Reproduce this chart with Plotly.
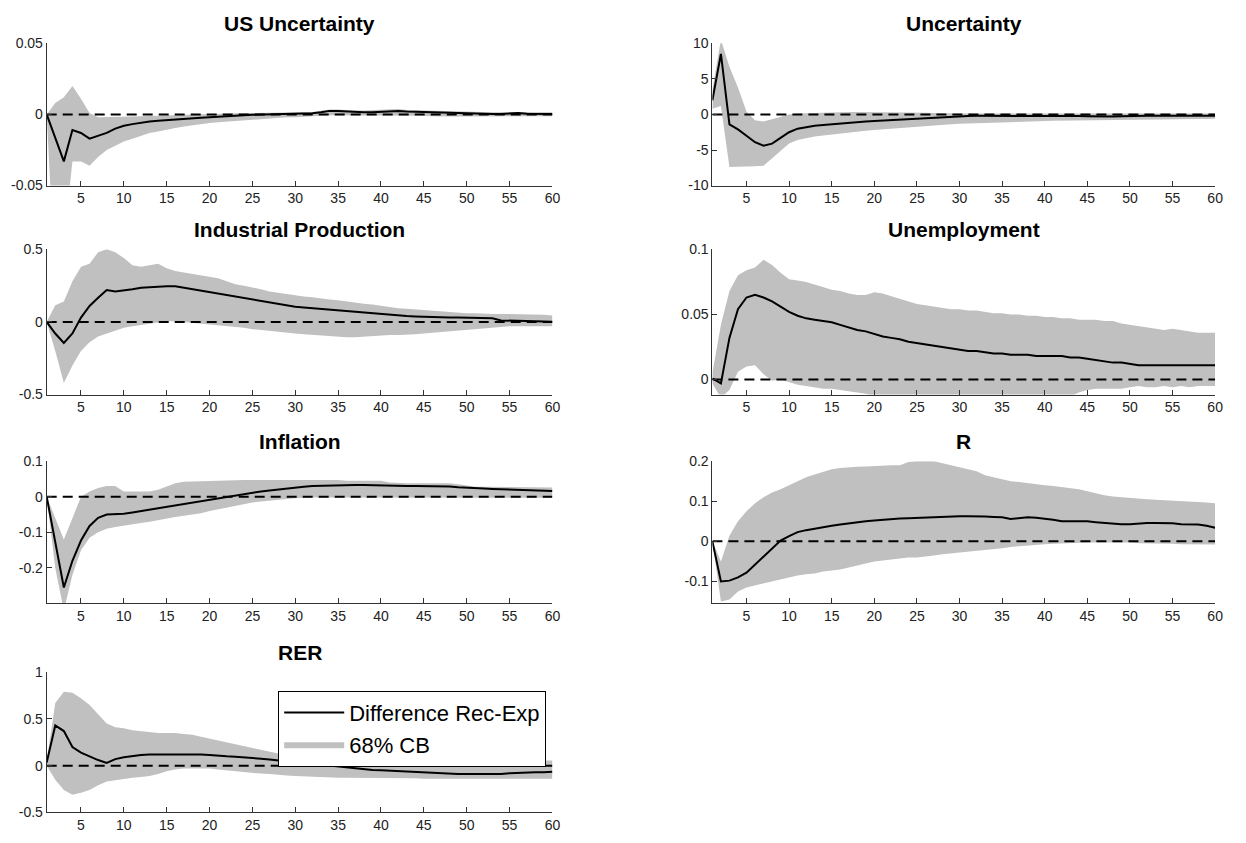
import plotly.graph_objects as go

periods = list(range(1, 61))

# ---------------- US Uncertainty ----------------
us_unc_irf = [0, -0.016, -0.033, -0.011, -0.013, -0.017, -0.015, -0.013, -0.010, -0.008,
              -0.0068, -0.0058, -0.005, -0.0045, -0.004, -0.0036, -0.0032, -0.0028, -0.0024, -0.002,
              -0.0015, -0.001, -0.0008, -0.0005, -0.0003, -0.0002, 0, 0, 0.0002, 0.0003,
              0.0005, 0.0008, 0.0015, 0.0025, 0.0025, 0.002, 0.0015, 0.0015, 0.0015, 0.002,
              0.0025, 0.0025, 0.002, 0.0018, 0.0018, 0.0015, 0.001, 0.0008, 0.0008, 0.0008,
              0.0005, 0.0003, 0.0003, 0.0003, 0.0005, 0.001, 0.0005, 0.0003, 0.0003, 0.0003]
us_unc_hi = [0, 0.008, 0.012, 0.020, 0.011, 0.001, -0.002, -0.002, -0.002, -0.002,
             -0.0015, -0.0012, -0.001, -0.001, -0.0008, -0.0005, -0.0003, 0, 0.0003, 0.0005,
             0.0008, 0.001, 0.001, 0.001, 0.001, 0.001, 0.001, 0.0012, 0.0013, 0.0015,
             0.0015, 0.0018, 0.0025, 0.0035, 0.0035, 0.003, 0.0028, 0.0028, 0.003, 0.0035,
             0.0038, 0.0038, 0.0032, 0.003, 0.003, 0.0028, 0.0022, 0.002, 0.002, 0.002,
             0.0018, 0.0015, 0.0015, 0.0015, 0.0017, 0.002, 0.0017, 0.0015, 0.0015, 0.0015]
us_unc_lo = [0, -0.12, -0.09, -0.033, -0.033, -0.036, -0.030, -0.025, -0.022, -0.019,
             -0.017, -0.015, -0.013, -0.012, -0.0105, -0.0095, -0.0085, -0.0075, -0.0065, -0.006,
             -0.0055, -0.005, -0.0045, -0.004, -0.0035, -0.003, -0.003, -0.0025, -0.002, -0.002,
             -0.0018, -0.0015, -0.001, -0.0005, -0.0005, -0.0008, -0.001, -0.001, -0.001, -0.0008,
             -0.0005, -0.0005, -0.0008, -0.001, -0.001, -0.0012, -0.0015, -0.0015, -0.0015, -0.0015,
             -0.0015, -0.0015, -0.0015, -0.0015, -0.0012, -0.001, -0.0012, -0.0012, -0.0012, -0.0012]

# ---------------- Uncertainty ----------------
unc_irf = [2.0, 8.5, -1.4, -2.1, -3.0, -3.9, -4.4, -4.1, -3.3, -2.5,
           -2.0, -1.75, -1.6, -1.5, -1.38, -1.27, -1.17, -1.08, -1.0, -0.92,
           -0.85, -0.78, -0.72, -0.65, -0.58, -0.5, -0.42, -0.35, -0.3, -0.25,
           -0.22, -0.2, -0.2, -0.2, -0.18, -0.15, -0.15, -0.15, -0.13, -0.12,
           -0.12, -0.15, -0.2, -0.22, -0.25, -0.3, -0.35, -0.3, -0.25, -0.2,
           -0.2, -0.2, -0.18, -0.18, -0.2, -0.2, -0.2, -0.2, -0.2, -0.2]
unc_hi = [3.5, 10.5, 6.7, 3.8, 0.4, -0.8, -1.0, -0.7, -0.3, 0.0,
          0.15, 0.2, 0.25, 0.3, 0.3, 0.3, 0.35, 0.35, 0.35, 0.35,
          0.35, 0.35, 0.35, 0.35, 0.3, 0.25, 0.2, 0.15, 0.15, 0.15,
          0.15, 0.15, 0.15, 0.15, 0.15, 0.15, 0.15, 0.15, 0.15, 0.15,
          0.15, 0.15, 0.15, 0.15, 0.15, 0.1, 0.05, 0.1, 0.15, 0.15,
          0.15, 0.15, 0.15, 0.15, 0.15, 0.15, 0.15, 0.15, 0.15, 0.15]
unc_lo = [0.8, 1.2, -7.4, -7.4, -7.35, -7.3, -7.2, -6.2, -5.1, -4.1,
          -3.6, -3.3, -3.1, -2.95, -2.8, -2.65, -2.55, -2.45, -2.3, -2.2,
          -2.1, -2.0, -1.9, -1.8, -1.7, -1.6, -1.52, -1.45, -1.38, -1.32,
          -1.27, -1.22, -1.18, -1.14, -1.1, -1.06, -1.02, -0.99, -0.96, -0.93,
          -0.9, -0.88, -0.86, -0.84, -0.82, -0.8, -0.8, -0.78, -0.76, -0.74,
          -0.72, -0.7, -0.69, -0.68, -0.67, -0.66, -0.65, -0.64, -0.63, -0.62]

# ---------------- Industrial Production ----------------
ip_irf = [0, -0.08, -0.145, -0.08, 0.03, 0.11, 0.166, 0.22, 0.21, 0.215,
          0.225, 0.235, 0.24, 0.245, 0.245, 0.245, 0.235, 0.225, 0.215, 0.205,
          0.195, 0.185, 0.175, 0.165, 0.155, 0.145, 0.135, 0.125, 0.115, 0.105,
          0.1, 0.095, 0.09, 0.085, 0.08, 0.075, 0.07, 0.065, 0.06, 0.055,
          0.05, 0.042, 0.04, 0.038, 0.035, 0.033, 0.03, 0.03, 0.03, 0.03,
          0.03, 0.03, 0.025, 0.01, 0.01, 0.008, 0.005, 0.005, 0.003, 0.002]
ip_hi = [0, 0.115, 0.14, 0.28, 0.38, 0.40, 0.48, 0.50, 0.48, 0.44,
         0.39, 0.38, 0.39, 0.40, 0.37, 0.35, 0.34, 0.33, 0.32, 0.31,
         0.30, 0.28, 0.26, 0.25, 0.24, 0.225, 0.21, 0.2, 0.19, 0.18,
         0.175, 0.17, 0.16, 0.155, 0.15, 0.14, 0.13, 0.125, 0.12, 0.11,
         0.1, 0.095, 0.09, 0.085, 0.08, 0.075, 0.07, 0.065, 0.06, 0.06,
         0.06, 0.055, 0.055, 0.055, 0.055, 0.055, 0.05, 0.05, 0.05, 0.045]
ip_lo = [0, -0.2, -0.42, -0.3, -0.2, -0.14, -0.1, -0.08, -0.065, -0.04,
         -0.03, -0.02, -0.01, 0.0, 0.005, 0.005, 0.0, -0.005, -0.01, -0.015,
         -0.02, -0.03, -0.035, -0.04, -0.05, -0.055, -0.06, -0.07, -0.075, -0.08,
         -0.085, -0.09, -0.095, -0.1, -0.105, -0.105, -0.105, -0.1, -0.1, -0.095,
         -0.09, -0.09, -0.09, -0.085, -0.08, -0.075, -0.07, -0.06, -0.055, -0.05,
         -0.045, -0.04, -0.035, -0.03, -0.03, -0.03, -0.03, -0.03, -0.03, -0.03]

# ---------------- Unemployment ----------------
unemp_irf = [0.001, -0.003, 0.032, 0.054, 0.063, 0.065, 0.063, 0.06, 0.056, 0.052,
             0.049, 0.047, 0.046, 0.045, 0.044, 0.042, 0.04, 0.038, 0.037, 0.035,
             0.033, 0.032, 0.031, 0.029, 0.028, 0.027, 0.026, 0.025, 0.024, 0.023,
             0.022, 0.022, 0.021, 0.02, 0.02, 0.019, 0.019, 0.019, 0.018, 0.018,
             0.018, 0.018, 0.017, 0.017, 0.016, 0.015, 0.014, 0.013, 0.013, 0.012,
             0.011, 0.011, 0.011, 0.011, 0.011, 0.011, 0.011, 0.011, 0.011, 0.011]
unemp_hi = [0.005, 0.042, 0.068, 0.08, 0.084, 0.086, 0.092, 0.088, 0.082, 0.077,
            0.076, 0.075, 0.073, 0.071, 0.069, 0.068, 0.066, 0.065, 0.065, 0.067,
            0.066, 0.064, 0.062, 0.06, 0.058, 0.057, 0.056, 0.055, 0.054, 0.054,
            0.053, 0.053, 0.052, 0.051, 0.051, 0.05, 0.05, 0.049, 0.049, 0.048,
            0.048, 0.047, 0.047, 0.046, 0.046, 0.046, 0.045, 0.045, 0.043, 0.042,
            0.041, 0.04, 0.039, 0.038, 0.039, 0.038, 0.037, 0.036, 0.036, 0.036]
unemp_lo = [-0.003, -0.014, -0.008, 0.006, 0.01, 0.011, 0.004, -0.001, 0.0, -0.002,
            -0.004, -0.005, -0.006, -0.007, -0.007, -0.008, -0.009, -0.01, -0.011, -0.013,
            -0.013, -0.013, -0.013, -0.013, -0.013, -0.013, -0.013, -0.013, -0.013, -0.013,
            -0.013, -0.013, -0.013, -0.013, -0.013, -0.013, -0.013, -0.013, -0.013, -0.013,
            -0.013, -0.013, -0.013, -0.01, -0.008, -0.007, -0.007, -0.007, -0.007, -0.006,
            -0.005, -0.006, -0.006, -0.005, -0.006, -0.005, -0.006, -0.005, -0.005, -0.005]

# ---------------- Inflation ----------------
infl_irf = [0, -0.13, -0.255, -0.18, -0.123, -0.082, -0.059, -0.05, -0.05, -0.048,
            -0.044, -0.04, -0.036, -0.032, -0.027, -0.025, -0.02, -0.016, -0.013, -0.007,
            -0.003, 0.001, 0.005, 0.009, 0.012, 0.015, 0.018, 0.021, 0.024, 0.026,
            0.028, 0.03, 0.031, 0.032, 0.033, 0.033, 0.033, 0.033, 0.032, 0.031,
            0.03, 0.03, 0.03, 0.03, 0.03, 0.03, 0.03, 0.029, 0.027, 0.025,
            0.024, 0.023, 0.022, 0.021, 0.02, 0.019, 0.018, 0.017, 0.016, 0.016]
infl_hi = [0, -0.06, -0.12, -0.06, 0.0, 0.015, 0.025, 0.03, 0.03, 0.015,
           0.015, 0.015, 0.015, 0.02, 0.03, 0.038, 0.042, 0.043, 0.044, 0.045,
           0.045, 0.046, 0.046, 0.047, 0.047, 0.047, 0.047, 0.048, 0.048, 0.048,
           0.048, 0.048, 0.048, 0.047, 0.047, 0.045, 0.045, 0.045, 0.045, 0.045,
           0.04, 0.038, 0.038, 0.038, 0.038, 0.038, 0.038, 0.038, 0.035, 0.032,
           0.028, 0.028, 0.028, 0.027, 0.027, 0.027, 0.026, 0.026, 0.026, 0.026]
infl_lo = [0, -0.2, -0.32, -0.22, -0.15, -0.115, -0.1, -0.09, -0.085, -0.082,
           -0.078, -0.074, -0.07, -0.065, -0.06, -0.057, -0.053, -0.05, -0.046, -0.04,
           -0.035, -0.03, -0.025, -0.02, -0.016, -0.013, -0.01, -0.008, -0.006, -0.004,
           -0.002, -0.002, -0.002, -0.002, -0.002, -0.002, -0.002, -0.002, -0.002, -0.002,
           -0.002, -0.002, -0.002, -0.002, -0.002, -0.002, -0.002, -0.002, -0.002, -0.003,
           -0.003, -0.003, -0.003, -0.003, -0.003, -0.003, -0.003, -0.003, -0.003, -0.003]

# ---------------- R ----------------
r_irf = [0, -0.1, -0.098, -0.09, -0.078, -0.058, -0.038, -0.018, 0.002, 0.013,
         0.023, 0.028, 0.032, 0.036, 0.039, 0.042, 0.045, 0.048, 0.05, 0.052,
         0.054, 0.056, 0.057, 0.058, 0.059, 0.06, 0.061, 0.062, 0.062, 0.063,
         0.063, 0.063, 0.062, 0.061, 0.06, 0.056, 0.058, 0.06, 0.059, 0.057,
         0.054, 0.05, 0.05, 0.05, 0.05, 0.048, 0.046, 0.045, 0.043, 0.043,
         0.045, 0.046, 0.046, 0.046, 0.045, 0.043, 0.043, 0.042, 0.039, 0.034]
r_hi = [0, -0.05, 0.014, 0.05, 0.075, 0.095, 0.11, 0.122, 0.13, 0.14,
        0.15, 0.16, 0.167, 0.173, 0.18, 0.183, 0.185, 0.186, 0.187, 0.188,
        0.19, 0.19, 0.19, 0.198, 0.2, 0.2, 0.2, 0.195, 0.19, 0.185,
        0.18, 0.175, 0.165, 0.16, 0.155, 0.15, 0.148, 0.145, 0.142, 0.14,
        0.138, 0.135, 0.133, 0.13, 0.125, 0.12, 0.115, 0.112, 0.11, 0.108,
        0.107, 0.105, 0.104, 0.103, 0.102, 0.1, 0.099, 0.098, 0.097, 0.095]
r_lo = [0, -0.15, -0.145, -0.125, -0.115, -0.11, -0.105, -0.1, -0.095, -0.09,
        -0.085, -0.082, -0.08, -0.075, -0.072, -0.07, -0.065, -0.06, -0.055, -0.05,
        -0.048, -0.045, -0.042, -0.04, -0.04, -0.038, -0.035, -0.032, -0.03, -0.028,
        -0.026, -0.024, -0.022, -0.02, -0.017, -0.014, -0.012, -0.01, -0.008, -0.007,
        -0.006, -0.005, -0.004, -0.003, -0.003, -0.003, -0.003, -0.003, -0.003, -0.003,
        -0.005, -0.005, -0.006, -0.006, -0.006, -0.007, -0.007, -0.007, -0.008, -0.008]

# ---------------- RER ----------------
rer_irf = [0.035, 0.43, 0.37, 0.2, 0.14, 0.1, 0.06, 0.03, 0.07, 0.09,
           0.105, 0.115, 0.12, 0.12, 0.12, 0.125, 0.125, 0.125, 0.12, 0.115,
           0.105, 0.1, 0.095, 0.09, 0.085, 0.075, 0.065, 0.055, 0.045, 0.03,
           0.025, 0.02, 0.01, 0.0, -0.005, -0.015, -0.025, -0.035, -0.045, -0.05,
           -0.055, -0.06, -0.065, -0.07, -0.075, -0.08, -0.085, -0.09, -0.09, -0.09,
           -0.09, -0.09, -0.09, -0.09, -0.08, -0.075, -0.075, -0.07, -0.07, -0.065]
rer_hi = [0.05, 0.67, 0.79, 0.78, 0.72, 0.65, 0.55, 0.45, 0.41, 0.4,
          0.38, 0.37, 0.36, 0.35, 0.35, 0.35, 0.34, 0.33, 0.31, 0.29,
          0.27, 0.25, 0.23, 0.21, 0.19, 0.17, 0.15, 0.13, 0.12, 0.1,
          0.09, 0.08, 0.075, 0.07, 0.065, 0.06, 0.06, 0.06, 0.06, 0.06,
          0.06, 0.06, 0.06, 0.06, 0.06, 0.06, 0.06, 0.055, 0.055, 0.055,
          0.055, 0.055, 0.055, 0.055, 0.055, 0.055, 0.055, 0.055, 0.055, 0.055]
rer_lo = [0.0, -0.15, -0.26, -0.31, -0.29, -0.26, -0.21, -0.17, -0.155, -0.14,
          -0.13, -0.12, -0.11, -0.09, -0.06, -0.04, -0.03, -0.03, -0.03, -0.03,
          -0.04, -0.05, -0.06, -0.07, -0.08, -0.085, -0.09, -0.1, -0.105, -0.11,
          -0.115, -0.12, -0.125, -0.13, -0.13, -0.13, -0.13, -0.13, -0.13, -0.13,
          -0.135, -0.135, -0.135, -0.135, -0.14, -0.14, -0.14, -0.14, -0.14, -0.14,
          -0.14, -0.14, -0.14, -0.14, -0.14, -0.14, -0.14, -0.14, -0.14, -0.14]

x_tick_vals = list(range(5, 61, 5))

panels = [
    dict(title="US Uncertainty", irf=us_unc_irf, lo=us_unc_lo, hi=us_unc_hi, col=0, row=0,
         yrange=[-0.05, 0.05], tv=[-0.05, 0, 0.05], tt=["-0.05", "0", "0.05"]),
    dict(title="Uncertainty", irf=unc_irf, lo=unc_lo, hi=unc_hi, col=1, row=0,
         yrange=[-10, 10], tv=[-10, -5, 0, 5, 10], tt=["-10", "-5", "0", "5", "10"]),
    dict(title="Industrial Production", irf=ip_irf, lo=ip_lo, hi=ip_hi, col=0, row=1,
         yrange=[-0.5, 0.5], tv=[-0.5, 0, 0.5], tt=["-0.5", "0", "0.5"]),
    dict(title="Unemployment", irf=unemp_irf, lo=unemp_lo, hi=unemp_hi, col=1, row=1,
         yrange=[-0.0115, 0.1], tv=[0, 0.05, 0.1], tt=["0", "0.05", "0.1"]),
    dict(title="Inflation", irf=infl_irf, lo=infl_lo, hi=infl_hi, col=0, row=2,
         yrange=[-0.3, 0.1], tv=[-0.2, -0.1, 0, 0.1], tt=["-0.2", "-0.1", "0", "0.1"]),
    dict(title="R", irf=r_irf, lo=r_lo, hi=r_hi, col=1, row=2,
         yrange=[-0.155, 0.2], tv=[-0.1, 0, 0.1, 0.2], tt=["-0.1", "0", "0.1", "0.2"]),
    dict(title="RER", irf=rer_irf, lo=rer_lo, hi=rer_hi, col=0, row=3,
         yrange=[-0.5, 1], tv=[-0.5, 0, 0.5, 1], tt=["-0.5", "0", "0.5", "1"]),
]

W, H = 1246, 843
col_px = [(47, 556), (717, 1223)]
row_px = [(36, 181), (246, 394), (462, 607), (677, 820)]

FONT = "Arial, Liberation Sans, Helvetica, sans-serif"
BAND = "#c0c0c0"
AX = "#333333"

fig = go.Figure()
annotations = []
layout_axes = {}

for i, p in enumerate(panels, start=1):
    xa = "x" if i == 1 else f"x{i}"
    ya = "y" if i == 1 else f"y{i}"
    xl = "xaxis" if i == 1 else f"xaxis{i}"
    yl = "yaxis" if i == 1 else f"yaxis{i}"
    c0, c1 = col_px[p["col"]]
    r0, r1 = row_px[p["row"]]
    xdom = [c0 / W, c1 / W]
    ydom = [1 - r1 / H, 1 - r0 / H]
    is_leg = p["title"] == "RER"

    fig.add_trace(go.Scatter(x=periods, y=p["lo"], mode="lines", line=dict(width=0, color=BAND),
                             xaxis=xa, yaxis=ya, showlegend=False, hoverinfo="skip"))
    fig.add_trace(go.Scatter(x=periods, y=p["hi"], mode="lines", line=dict(width=0, color=BAND),
                             fill="tonexty", fillcolor=BAND, xaxis=xa, yaxis=ya,
                             name="68% CB", showlegend=is_leg, legendrank=2))
    fig.add_trace(go.Scatter(x=periods, y=p["irf"], mode="lines", line=dict(width=2, color="black"),
                             xaxis=xa, yaxis=ya, name="Difference Rec-Exp",
                             showlegend=is_leg, legendrank=1))
    fig.add_trace(go.Scatter(x=[periods[0], periods[-1]], y=[0, 0], mode="lines",
                             line=dict(width=2, color="black", dash="10px,6px"),
                             xaxis=xa, yaxis=ya, showlegend=False, hoverinfo="skip"))

    layout_axes[xl] = dict(domain=xdom, anchor=ya, range=[1, 60], tickvals=x_tick_vals,
                           ticks="inside", ticklen=5, tickcolor=AX, showline=True, linecolor=AX,
                           linewidth=1, showgrid=False, zeroline=False, mirror=False,
                           tickfont=dict(family=FONT, size=14, color="#222"))
    layout_axes[yl] = dict(domain=ydom, anchor=xa, range=p["yrange"], tickvals=p["tv"],
                           ticktext=p["tt"], ticks="inside", ticklen=5, tickcolor=AX,
                           showline=True, linecolor=AX, linewidth=1, showgrid=False,
                           zeroline=False, mirror=False,
                           tickfont=dict(family=FONT, size=14, color="#222"))
    annotations.append(dict(text="<b>%s</b>" % p["title"], x=(xdom[0] + xdom[1]) / 2, y=ydom[1],
                            xref="paper", yref="paper", xanchor="center", yanchor="middle",
                            yshift=20, showarrow=False,
                            font=dict(family=FONT, size=21, color="black")))

fig.update_layout(
    width=W, height=H,
    margin=dict(l=0, r=0, t=0, b=0),
    paper_bgcolor="white", plot_bgcolor="white",
    annotations=annotations,
    showlegend=True,
    legend=dict(x=280 / W, y=1 - 696 / H, xanchor="left", yanchor="top",
                bgcolor="white", bordercolor="black", borderwidth=1,
                font=dict(family=FONT, size=22, color="black"),
                traceorder="normal", itemwidth=60, tracegroupgap=0),
    **layout_axes,
)

fig.write_html("out.html")
